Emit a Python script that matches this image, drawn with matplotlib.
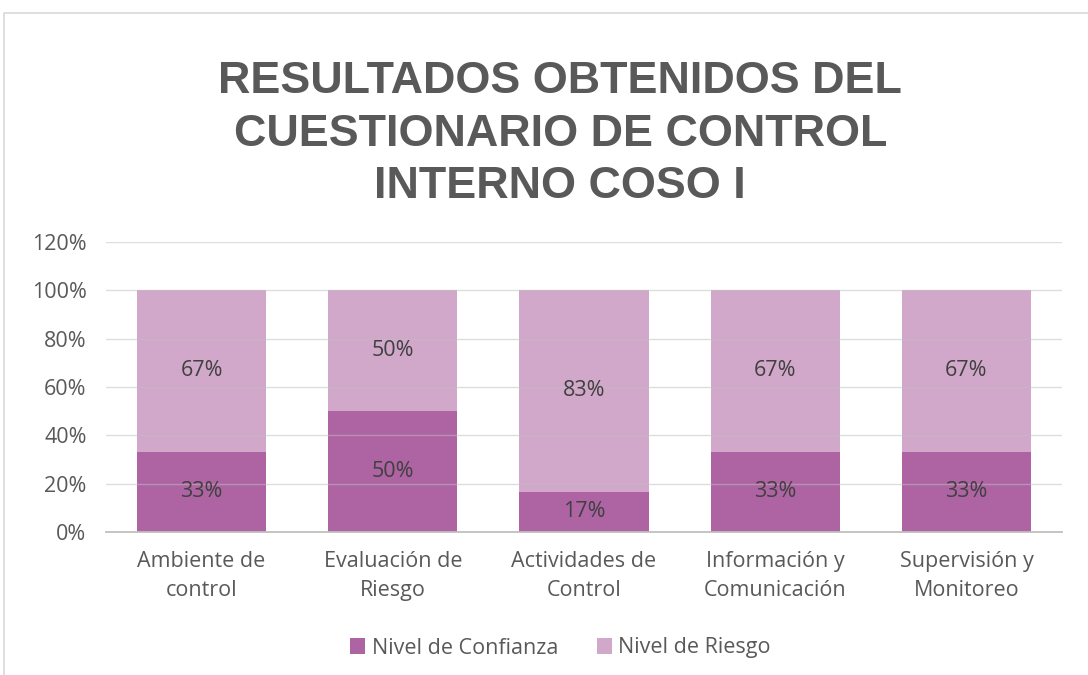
import matplotlib
matplotlib.use('Agg')
import matplotlib.pyplot as plt
import numpy as np
from matplotlib.patches import Rectangle
from matplotlib.ticker import PercentFormatter

categories = ["Ambiente de\ncontrol", "Evaluación de\nRiesgo", "Actividades de\nControl",
              "Información y\nComunicación", "Supervisión y\nMonitoreo"]
confianza = [0.333, 0.50, 0.167, 0.333, 0.333]
riesgo = [0.667, 0.50, 0.833, 0.667, 0.667]
series_names = ["Nivel de Confianza", "Nivel de Riesgo"]
title = "RESULTADOS OBTENIDOS DEL\nCUESTIONARIO DE CONTROL\nINTERNO COSO I"

plt.rcParams['font.family'] = ['Open Sans', 'DejaVu Sans']
dark = "#AE63A3"
light = "#D1A8C9"
txt = "#595959"
fs = 15.5

fig = plt.figure(figsize=(10.88, 6.75), dpi=100)
# chart frame
fig.patches.append(Rectangle((4 / 1088, -0.1), 1.2, (675 - 13) / 675 + 0.1,
                             transform=fig.transFigure, fill=False,
                             edgecolor="#D9D9D9", linewidth=1.2))

ax = fig.add_axes([106 / 1088, 143 / 675, 956 / 1088, 290 / 675])
x = np.arange(len(categories))
w = 0.675
b1 = ax.bar(x, confianza, w, color=dark, label=series_names[0], zorder=2)
b2 = ax.bar(x, riesgo, w, bottom=confianza, color=light, label=series_names[1], zorder=2)

for i in range(len(x)):
    ax.text(x[i], confianza[i] / 2, f"{confianza[i]:.0%}", ha="center", va="center",
            fontsize=fs, color="#404040", zorder=4)
    ax.text(x[i], confianza[i] + riesgo[i] / 2, f"{riesgo[i]:.0%}", ha="center", va="center",
            fontsize=fs, color="#404040", zorder=4)

ax.set_ylim(0, 1.2)
ax.set_xlim(-0.5, len(x) - 0.5)
ax.set_yticks(np.arange(0, 1.21, 0.2))
ax.yaxis.set_major_formatter(PercentFormatter(1.0, decimals=0))
ax.set_xticks(x)
ax.set_xticklabels(categories, fontsize=fs, color=txt, linespacing=1.45)
ax.tick_params(axis="y", labelsize=fs, labelcolor=txt, length=0, pad=14)
ax.tick_params(axis="x", length=0, pad=14)
for gy in np.arange(0.2, 1.21, 0.2):
    ax.axhline(gy, color="#BFBFBF", linewidth=1, alpha=0.5, zorder=3)
for s in ["top", "right", "left"]:
    ax.spines[s].set_visible(False)
ax.spines["bottom"].set_color("#BFBFBF")
ax.spines["bottom"].set_linewidth(1.3)
ax.spines["bottom"].set_zorder(5)

fig.text(0.515, (675 - 134) / 675, title, ha="center", va="center", fontsize=32.3,
         fontweight="bold", color=txt, linespacing=1.36, family="Liberation Sans")

fig.legend(handles=[b1, b2], labels=series_names, loc="center", bbox_to_anchor=(0.515, 27 / 675),
           ncol=2, frameon=False, fontsize=fs, handlelength=0.7, handleheight=0.7,
           handletextpad=0.3, columnspacing=1.8, labelcolor=txt)

fig.savefig("out.png", dpi=100)
